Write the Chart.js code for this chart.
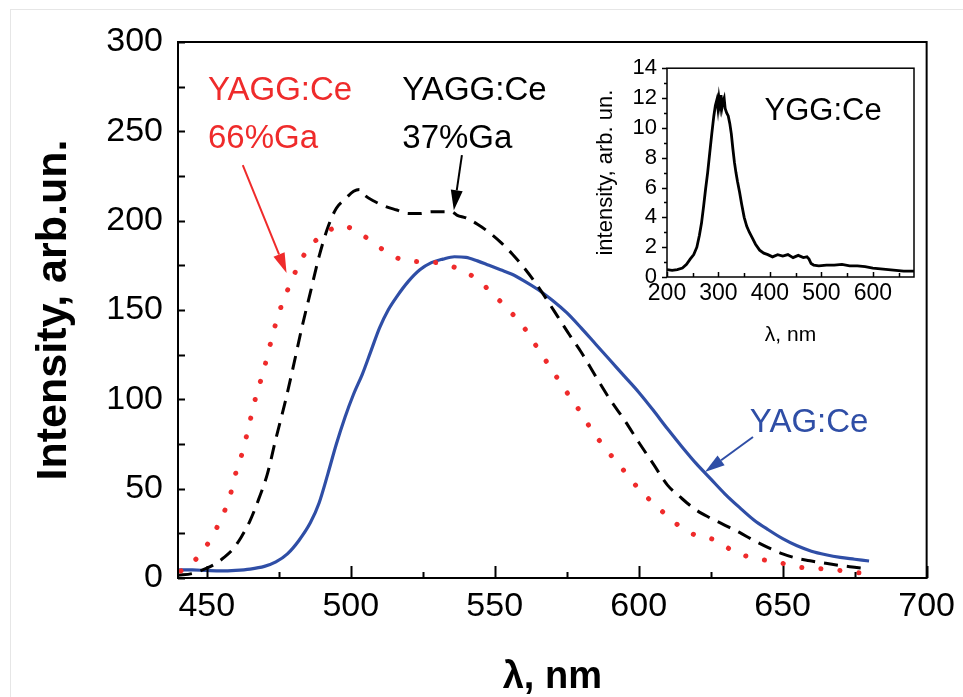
<!DOCTYPE html>
<html>
<head>
<meta charset="utf-8">
<script src="https://cdn.jsdelivr.net/npm/chart.js@4.4.0/dist/chart.umd.min.js"></script>
<style>
body{margin:0;background:#fff;}
#wrap{position:relative;width:963px;height:697px;overflow:hidden;background:#fff;}
#frame{position:absolute;left:10px;top:9px;width:960px;height:700px;border:1px solid #e6e6e6;}
#main{position:absolute;left:0;top:0;}
#inset{position:absolute;left:585px;top:45px;}
</style>
</head>
<body>
<div id="wrap">
<div id="frame"></div>
<canvas id="main" width="963" height="697"></canvas>
<canvas id="inset" width="340" height="315"></canvas>
</div>
<script>
// YAG:Ce (blue, solid)
const yagX = [440,445,450,455,460,465,470,474,478,482,486,489,492,495,498,501,504,507,510,513,516,520,524,528,532,536,540,544,548,552,556,560,565,570,575,580,585,590,595,600,605,610,615,620,625,630,635,640,645,650,655,660,665,670,675,680];
const yagY = [4.5,4.5,4.2,4.0,4.3,5,6.5,9,13.5,21,31,42,58,75,90,103,114,127,140,150,157.5,166,172.5,176.5,178.5,179.8,179.5,177.5,175,172.5,170,166.5,161.5,155.5,148.5,140,131,122,113,104,94,83.5,73.5,64,55.5,47,39.5,32.5,27,22,18,15,13,11.5,10.5,9.5];

// YAGG:Ce 37%Ga (black, dashed)
const ga37X = [440,445,450,453,456,459,462,465,468,471,474,477,480,483,486,489,492,495,498,501,503,505,508,512,516,520,524,528,532,535,537,540,544,548,552,556,560,564,568,572,576,580,585,590,595,600,605,610,615,620,625,630,635,640,645,650,655,660,665,670,675,680];
const ga37Y = [1.5,2.5,5.5,8,11.5,16,23,32,44,58,78,97,118,140,160,180,196,207,212,216.5,217.5,214,211,208,206,204,204,205,205,205,203,201.5,198,193.5,188,181.5,174,165.5,156,146,136,126.5,113,100,88.5,76,64,52,44.5,38,33.5,29.5,25.5,21,17,13.5,11,9.5,8.2,7,6,5];

// YAGG:Ce 66%Ga (red, dotted)
const ga66X = [441,444,446.5,449,451.7,455.2,458,459.7,462,463.8,465.5,467.2,469.3,471.2,473,475,477.6,480.5,484.5,490.9,497.2,504.1,510.5,517.4,523.7,530.1,537,543.9,549.1,554.9,560.7,565.3,569.9,574.5,579.3,583.7,588.9,594.7,600.4,606.2,612.6,619.5,626.4,633.3,640.2,647.7,654.6,661.6,668.5,675.9,680];
const ga66Y = [4,7,11,16,22.8,34,45.5,56.7,68.3,79.5,91.2,102.4,113.6,125.3,136.9,148.1,159.3,170.5,182.6,192.9,197,191.9,184.5,178.3,177,176.4,173.3,167.2,159.3,150,139,127.6,116.4,105.2,94,82.8,71.6,60.4,49.2,40.3,30.9,24.1,21.3,14.7,11,9.1,6.3,5.4,4.5,3,2.5];

// inset: YGG:Ce
const yggX = [200,210,220,230,238,245,252,258,263,267,271,275,279,283,287,291,294,297,299,301,303,305,307,309,311,313,316,319,322,325,328,331,334,337,341,345,350,355,360,366,372,380,388,396,405,415,425,435,445,455,465,472,476,480,485,495,510,525,540,555,570,585,600,615,630,645,660,675,680];
const yggY = [0.5,0.45,0.5,0.6,0.85,1.2,1.5,2.0,2.8,3.6,4.7,5.9,7.0,8.3,9.6,10.8,11.5,11.9,11.3,12.0,11.5,12.2,11.4,11.8,12.0,11.3,11.0,10.8,10.3,9.6,8.6,7.7,7.0,6.4,5.7,4.9,4.0,3.4,3.0,2.6,2.2,1.8,1.6,1.5,1.35,1.5,1.4,1.5,1.3,1.45,1.3,1.35,1.2,0.9,0.8,0.75,0.8,0.8,0.85,0.75,0.75,0.7,0.6,0.55,0.5,0.45,0.4,0.4,0.4];

const mainXTicks = [450,500,550,600,650,700];
const mainYTicks = [0,50,100,150,200,250,300];
const insetXTicks = [200,300,400,500,600];
const insetYTicks = [0,2,4,6,8,10,12,14];

const RED = '#ef2b2b';
const BLUE = '#2f4ea6';

function pts(xs, ys){ return xs.map((x,i)=>({x:x, y:ys[i]})); }

Chart.defaults.font.family = "'Liberation Sans', Arial, sans-serif";
Chart.defaults.color = '#000';

// frame + tick marks drawn through the scales
function frameTicks(o){
  return {
    id: 'frameTicks',
    afterDatasetsDraw(chart){
      const c = chart.ctx, a = chart.chartArea, sx = chart.scales.x, sy = chart.scales.y;
      c.save();
      c.strokeStyle = '#000';
      c.lineWidth = o.lw;
      c.strokeRect(a.left, a.top, a.right-a.left, a.bottom-a.top);
      c.beginPath();
      for (let v = o.xFrom; v <= sx.max + 1e-9; v += o.xStep){
        const p = Math.round(sx.getPixelForValue(v)) + 0.5;
        const L = (Math.abs((v - o.xFrom) % o.xMajor) < 1e-6) ? o.xLen : o.xMinorLen;
        c.moveTo(p, a.bottom); c.lineTo(p, a.bottom + o.xDir*L);
      }
      for (let v = sy.min; v <= sy.max + 1e-9; v += o.yStep){
        const p = Math.round(sy.getPixelForValue(v)) + 0.5;
        const L = (Math.abs(v % o.yMajor) < 1e-6) ? o.yLen : o.yMinorLen;
        c.moveTo(a.left, p); c.lineTo(a.left + o.yDir*L, p);
      }
      c.stroke();
      c.restore();
    }
  };
}

// text labels and arrows, placed in data units
const mainNotes = [
  {text:'YAGG:Ce', x:450.4, y:267.5, color:RED},
  {text:'66%Ga', x:450.4, y:240.6, color:RED},
  {text:'YAGG:Ce', x:517.9, y:267.5, color:'#000'},
  {text:'37%Ga', x:517.9, y:240.6, color:'#000'},
  {text:'YAG:Ce', x:638.6, y:81.7, color:BLUE}
];
const mainArrows = [
  {from:[462.5,231.1], to:[477.7,170.7], color:RED},
  {from:[538.6,236.7], to:[535.8,205.9], color:'#000'},
  {from:[639.7,78.9], to:[623,59.3], color:BLUE}
];
const insetNotes = [
  {text:'YGG:Ce', x:389.6, y:10.55, color:'#000'}
];

function notesPlugin(notes, arrows, size){
  return {
    id: 'notes',
    afterDraw(chart){
      const c = chart.ctx, sx = chart.scales.x, sy = chart.scales.y;
      c.save();
      c.font = size + "px 'Liberation Sans', Arial, sans-serif";
      c.textBaseline = 'alphabetic';
      c.textAlign = 'left';
      notes.forEach(n => {
        c.fillStyle = n.color;
        c.fillText(n.text, sx.getPixelForValue(n.x), sy.getPixelForValue(n.y));
      });
      arrows.forEach(r => {
        const x1 = sx.getPixelForValue(r.from[0]), y1 = sy.getPixelForValue(r.from[1]);
        const x2 = sx.getPixelForValue(r.to[0]), y2 = sy.getPixelForValue(r.to[1]);
        const ang = Math.atan2(y2-y1, x2-x1), hl = 20, hw = 6;
        const bx = x2 - hl*Math.cos(ang), by = y2 - hl*Math.sin(ang);
        c.strokeStyle = r.color; c.fillStyle = r.color; c.lineWidth = 2;
        c.beginPath(); c.moveTo(x1,y1); c.lineTo(bx,by); c.stroke();
        c.beginPath();
        c.moveTo(x2,y2);
        c.lineTo(bx + hw*Math.sin(ang), by - hw*Math.cos(ang));
        c.lineTo(bx - hw*Math.sin(ang), by + hw*Math.cos(ang));
        c.closePath(); c.fill();
      });
      c.restore();
    }
  };
}

new Chart(document.getElementById('main'), {
  type: 'line',
  data: {
    datasets: [
      {label:'YAGG:Ce 66%Ga', data: pts(ga66X, ga66Y), borderColor: RED, borderWidth: 5, borderDash: [0.1, 19], borderCapStyle: 'round', pointRadius: 0, cubicInterpolationMode: 'monotone'},
      {label:'YAGG:Ce 37%Ga', data: pts(ga37X, ga37Y), borderColor: '#000', borderWidth: 3, borderDash: [14, 9], pointRadius: 0, cubicInterpolationMode: 'monotone'},
      {label:'YAG:Ce', data: pts(yagX, yagY), borderColor: BLUE, borderWidth: 3.2, pointRadius: 0, cubicInterpolationMode: 'monotone'}
    ]
  },
  options: {
    responsive: false,
    animation: false,
    layout: {padding: {top: 42, right: 35, left: 0, bottom: 0}},
    plugins: {legend: {display: false}, tooltip: {enabled: false}},
    scales: {
      x: {
        type: 'linear', min: 440, max: 700,
        afterFit: s => { s.height = 119; },
        afterBuildTicks: s => { s.ticks = mainXTicks.map(v => ({value: v})); },
        grid: {display: false, drawTicks: false},
        border: {display: false},
        ticks: {font: {size: 34}, padding: 8, maxRotation: 0, autoSkip: false},
        title: {display: true, text: 'λ, nm', font: {size: 38, weight: 'bold', lineHeight: 1}, padding: {top: 0, bottom: 0}}
      },
      y: {
        type: 'linear', min: 0, max: 300,
        afterFit: s => { s.width = 178; },
        afterBuildTicks: s => { s.ticks = mainYTicks.map(v => ({value: v})); },
        grid: {display: false, drawTicks: false},
        border: {display: false},
        ticks: {font: {size: 34}, padding: 15, autoSkip: false},
        title: {display: true, text: 'Intensity, arb.un.', font: {size: 43, weight: 'bold', lineHeight: 1}, padding: {top: 33, bottom: 0}}
      }
    }
  },
  plugins: [
    frameTicks({lw: 2, xFrom: 450, xStep: 25, xMajor: 50, xLen: 12, xMinorLen: 6, xDir: -1, yStep: 25, yMajor: 25, yLen: 7, yMinorLen: 7, yDir: 1}),
    notesPlugin(mainNotes, mainArrows, 33)
  ]
});

new Chart(document.getElementById('inset'), {
  type: 'line',
  data: {
    datasets: [
      {label:'YGG:Ce', data: pts(yggX, yggY), borderColor: '#000', borderWidth: 2.8, pointRadius: 0}
    ]
  },
  options: {
    responsive: false,
    animation: false,
    layout: {padding: {top: 13, right: 11, left: 0, bottom: 0}},
    plugins: {legend: {display: false}, tooltip: {enabled: false}},
    scales: {
      x: {
        type: 'linear', min: 200, max: 680,
        afterFit: s => { s.height = 83; },
        afterBuildTicks: s => { s.ticks = insetXTicks.map(v => ({value: v})); },
        grid: {display: false, drawTicks: false},
        border: {display: false},
        ticks: {font: {size: 23}, padding: 3, maxRotation: 0, autoSkip: false},
        title: {display: true, text: 'λ, nm', font: {size: 21, lineHeight: 1}, padding: {top: 0, bottom: 14}}
      },
      y: {
        type: 'linear', min: 0, max: 14,
        afterFit: s => { s.width = 82; },
        afterBuildTicks: s => { s.ticks = insetYTicks.map(v => ({value: v})); },
        grid: {display: false, drawTicks: false},
        border: {display: false},
        ticks: {font: {size: 22}, padding: 10, autoSkip: false},
        title: {display: true, text: 'intensity, arb. un.', font: {size: 22, lineHeight: 1}, padding: {top: 10, bottom: 0}}
      }
    }
  },
  plugins: [
    frameTicks({lw: 1.5, xFrom: 200, xStep: 50, xMajor: 100, xLen: 5, xMinorLen: 4, xDir: -1, yStep: 1, yMajor: 2, yLen: 5, yMinorLen: 3, yDir: -1}),
    notesPlugin(insetNotes, [], 31)
  ]
});
</script>
</body>
</html>
